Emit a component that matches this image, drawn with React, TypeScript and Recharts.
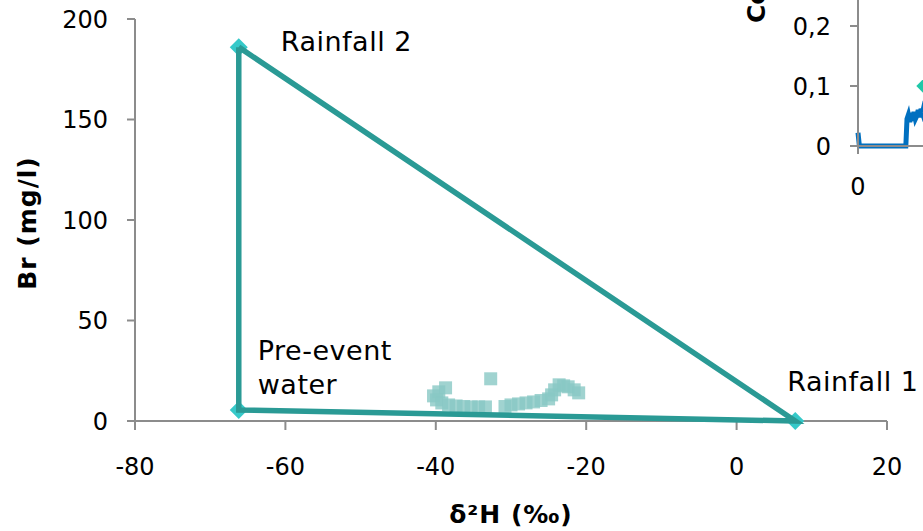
import { ScatterChart, Scatter, XAxis, YAxis, ComposedChart, Line, Label } from "recharts";

// end members of the mixing triangle
const endMemberNames = ["Rainfall 2", "Pre-event water", "Rainfall 1"];
const endMemberD2H = [-66.2, -66.2, 7.8];
const endMemberBr = [186, 5.5, 0];

// stream water samples
const sampleD2H = [
  -40.3, -39.6, -38.7, -39.9, -39.2, -38.3, -37.3, -36.3, -35.3, -34.3, -33.4,
  -32.7, -30.8, -30.0, -29.0, -28.0, -27.0, -26.0, -25.0, -24.6, -24.2, -23.6,
  -23.0, -22.4, -21.6, -21.0,
];
const sampleBr = [
  12.5, 14.5, 16.5, 10.5, 9.0, 8.0, 7.5, 7.2, 7.0, 7.0, 7.0, 21.0, 7.2, 8.0,
  8.5, 9.0, 9.5, 10.2, 11.0, 13.0, 15.5, 18.0, 17.5, 17.0, 15.5, 14.0,
];

// inset: concentration time series
const insetTime = [0, 0.6, 1.2, 10, 20.5, 21, 21.6, 22.2, 22.8, 23.4, 24, 24.6, 25.2, 25.8, 26.4, 27, 27.6, 28.2, 29];
const insetConc = [0.022, 0.0, 0, 0, 0, 0.045, 0.052, 0.04, 0.055, 0.042, 0.057, 0.045, 0.05, 0.06, 0.048, 0.062, 0.055, 0.065, 0.06];
const insetMarkerTime = [28];
const insetMarkerConc = [0.1];

const xTicks = [-80, -60, -40, -20, 0, 20];
const yTicks = [0, 50, 100, 150, 200];
const insetXTicks = [0];
const insetYTicks = [0, 0.1, 0.2];

const FONT = "Verdana, 'DejaVu Sans', sans-serif";
const AXIS = "#8c8c8c";
const TEAL_LINE = "#2a9a95";
const TEAL_MARK = "#36c9c9";

const endMembers = endMemberNames.map((name, i) => ({
  name,
  x: endMemberD2H[i],
  y: endMemberBr[i],
}));
const triangle = [endMembers[0], endMembers[1], endMembers[2], endMembers[0]];
const samples = sampleD2H.map((x, i) => ({ x, y: sampleBr[i] }));
const inset = insetTime.map((t, i) => ({ t, c: insetConc[i] }));
const insetMarker = insetMarkerTime.map((t, i) => ({ t, m: insetMarkerConc[i] }));

// where each end-member label sits relative to its point
const labelOffsets: Record<string, { dx: number; dy: number[] }> = {
  "Rainfall 2": { dx: 42, dy: [-6] },
  "Pre-event water": { dx: 19, dy: [-59, -25] },
  "Rainfall 1": { dx: -8, dy: [-40] },
};
const labelLines: Record<string, string[]> = {
  "Rainfall 2": ["Rainfall 2"],
  "Pre-event water": ["Pre-event", "water"],
  "Rainfall 1": ["Rainfall 1"],
};

const Diamond = (props: any) => {
  const { cx, cy, payload } = props;
  const r = 9;
  const off = labelOffsets[payload.name];
  return (
    <g>
      <path
        d={`M${cx},${cy - r}L${cx + r},${cy}L${cx},${cy + r}L${cx - r},${cy}Z`}
        fill={TEAL_MARK}
      />
      {labelLines[payload.name].map((txt, i) => (
        <text
          key={i}
          x={cx + off.dx}
          y={cy + off.dy[i]}
          dominantBaseline="central"
          fontSize={27}
          letterSpacing={0.5}
          fontFamily={FONT}
          fill="#000"
        >
          {txt}
        </text>
      ))}
    </g>
  );
};

const SquareDot = (props: any) => {
  const { cx, cy } = props;
  return <rect x={cx - 6.5} y={cy - 6.5} width={13} height={13} fill="#88c8c4" fillOpacity={0.8} />;
};

const NoDot = () => <g />;

const InsetDiamond = (props: any) => {
  const { cx, cy } = props;
  const r = 7;
  return <path d={`M${cx},${cy - r}L${cx + r},${cy}L${cx},${cy + r}L${cx - r},${cy}Z`} fill="#1fc8a8" />;
};

const tickStyle = { fill: "#000", fontSize: 24, fontFamily: FONT };

export default function App() {
  return (
    <div
      style={{
        position: "fixed",
        left: 0,
        top: 0,
        width: 923,
        height: 531,
        overflow: "hidden",
        background: "#fff",
        fontFamily: FONT,
      }}
    >
      <div style={{ position: "absolute", left: 0, top: 0 }}>
        <ScatterChart width={923} height={531} margin={{ top: 19, right: 36, left: 0, bottom: 0 }}>
          <XAxis
            type="number"
            dataKey="x"
            domain={[-80, 20]}
            ticks={xTicks}
            height={110}
            tickSize={9}
            tickMargin={28}
            stroke={AXIS}
            strokeWidth={2}
            tick={tickStyle}
          >
            <Label
              content={({ viewBox }: any) => (
                <text
                  x={viewBox.x + viewBox.width / 2}
                  y={514}
                  textAnchor="middle"
                  dominantBaseline="central"
                  fontSize={25}
                  letterSpacing={1}
                  fontWeight="bold"
                  fontFamily={FONT}
                >
                  δ²H (‰)
                </text>
              )}
            />
          </XAxis>
          <YAxis
            type="number"
            dataKey="y"
            domain={[0, 200]}
            ticks={yTicks}
            width={135}
            tickSize={8}
            tickMargin={19}
            stroke={AXIS}
            strokeWidth={2}
            tick={tickStyle}
          >
            <Label
              content={({ viewBox }: any) => (
                <text
                  x={27}
                  y={viewBox.y + viewBox.height / 2 + 3}
                  textAnchor="middle"
                  dominantBaseline="central"
                  fontSize={25}
                  letterSpacing={1}
                  fontWeight="bold"
                  fontFamily={FONT}
                  transform={`rotate(-90, 27, ${viewBox.y + viewBox.height / 2 + 3})`}
                >
                  Br (mg/l)
                </text>
              )}
            />
          </YAxis>
          <Scatter data={samples} shape={SquareDot} isAnimationActive={false} />
          <Scatter data={endMembers} shape={Diamond} isAnimationActive={false} />
          <Scatter
            data={triangle}
            shape={NoDot}
            line={{ stroke: TEAL_LINE, strokeWidth: 5.5 }}
            lineType="joint"
            isAnimationActive={false}
          />
        </ScatterChart>
      </div>

      <div style={{ position: "absolute", left: 728, top: -50 }}>
        <ComposedChart width={500} height={256} data={inset} margin={{ top: 16, right: 20, left: 0, bottom: 0 }}>
          <XAxis
            type="number"
            dataKey="t"
            domain={[0, 150]}
            ticks={insetXTicks}
            height={60}
            tickSize={8}
            tickMargin={24}
            stroke={AXIS}
            strokeWidth={2}
            tick={tickStyle}
          />
          <YAxis
            type="number"
            domain={[0, 0.3]}
            ticks={insetYTicks}
            width={130}
            tickSize={8}
            tickMargin={19}
            stroke={AXIS}
            strokeWidth={2}
            tick={tickStyle}
            tickFormatter={(v: number) => String(v).replace(".", ",")}
          >
            <Label
              content={() => (
                <text
                  x={37}
                  y={73}
                  textAnchor="start"
                  fontSize={25}
                  fontWeight="bold"
                  fontFamily={FONT}
                  transform="rotate(-90, 37, 73)"
                >
                  Concentration
                </text>
              )}
            />
          </YAxis>
          <Line
            dataKey="c"
            stroke="#0070c0"
            strokeWidth={5}
            dot={false}
            type="linear"
            isAnimationActive={false}
          />
          <Scatter data={insetMarker} dataKey="m" shape={InsetDiamond} isAnimationActive={false} />
        </ComposedChart>
      </div>
    </div>
  );
}
